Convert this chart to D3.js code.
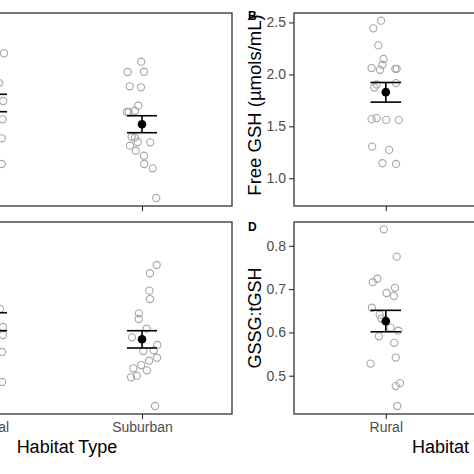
<!DOCTYPE html>
<html>
<head>
<meta charset="utf-8">
<script src="https://cdn.jsdelivr.net/npm/d3@7"></script>
<style>
  html, body { margin: 0; padding: 0; background: #fff; }
  svg { display: block; }
</style>
</head>
<body>
<script>
// ---------------- DATA ----------------
const categories = ["Rural", "Suburban"];

// Panel A (y axis outside the visible crop)
const aRuralVals = [5.165, 4.549, 4.176, 3.797, 3.403, 2.870];
const aRuralJit  = [0.08, 0.047, 0.075, 0.071, 0.065, 0.065];
const aSubVals = [4.991, 4.777, 4.783, 4.481, 4.460, 4.079, 3.948, 3.948, 3.975, 3.436,
                  3.416, 3.326, 3.250, 3.320, 3.146, 3.042, 2.870, 2.781, 2.166];
const aSubJit  = [-0.005, -0.095, 0.013, -0.082, -0.007, -0.025, -0.1, -0.089, -0.047, -0.069,
                  -0.047, -0.029, -0.08, 0.055, -0.042, 0.013, 0.015, 0.071, 0.095];
const aMean  = [4.135, 3.693];
const aUpper = [4.315, 3.871];
const aLower = [3.954, 3.519];

// Panel B: Free GSH (µmols/mL)
const bRuralVals = [2.517, 2.443, 2.279, 2.148, 2.093, 2.061, 2.044, 2.054, 2.054, 1.903,
                    1.874, 1.916, 1.569, 1.579, 1.562, 1.562, 1.305, 1.273, 1.145, 1.138];
const bRuralJit  = [-0.031, -0.082, -0.049, -0.015, -0.022, -0.093, -0.038, 0.062, 0.071, -0.06,
                    -0.075, 0.067, -0.093, -0.06, 0.002, 0.085, -0.089, 0.022, -0.022, 0.067];
const bMean  = [1.829];
const bUpper = [1.922];
const bLower = [1.733];
const bTicks = [1.0, 1.5, 2.0, 2.5];

// Panel C (y axis outside the visible crop)
const cRuralVals = [1.075, 0.925, 0.858, 0.717, 0.467];
const cRuralJit  = [0.053, 0.073, 0.073, 0.067, 0.067];
const cSubVals = [1.442, 1.373, 1.228, 1.158, 1.039, 0.992, 0.911, 0.839, 0.775, 0.725,
                  0.731, 0.669, 0.644, 0.608, 0.581, 0.564, 0.519, 0.506, 0.267];
const cSubJit  = [0.098, 0.053, 0.049, 0.053, -0.02, -0.022, 0.031, -0.067, 0.102, 0.009,
                  0.078, 0.1, 0.047, -0.005, -0.058, 0.033, -0.035, -0.073, 0.087];
const cMean  = [0.969, 0.8225];
const cUpper = [1.044, 0.894];
const cLower = [0.894, 0.750];

// Panel D: GSSG:tGSH
const dRuralVals = [0.838, 0.775, 0.724, 0.716, 0.703, 0.691, 0.684, 0.657, 0.641, 0.632,
                    0.611, 0.604, 0.591, 0.576, 0.542, 0.528, 0.483, 0.476, 0.430];
const dRuralJit  = [-0.013, 0.071, -0.055, -0.085, 0.06, 0.005, 0.053, -0.091, -0.04, -0.029,
                    0.031, 0.082, -0.045, 0.055, 0.065, -0.1, 0.093, 0.065, 0.075];
const dMean  = [0.626];
const dUpper = [0.651];
const dLower = [0.6015];
const dTicks = [0.5, 0.6, 0.7, 0.8];

const xTitle = "Habitat Type";

// ---------------- DRAW ----------------
const W = 474, H = 474;
const FONT = "'Liberation Sans', Arial, Helvetica, sans-serif";
const svg = d3.select("body").append("svg").attr("width", W).attr("height", H)
  .style("font-family", FONT);
svg.append("rect").attr("width", W).attr("height", H).attr("fill", "#fff");

function drawPanel(cfg) {
  const x = d3.scalePoint().domain(categories).range([cfg.x0, cfg.x1]).padding(0.6);
  const y = d3.scaleLinear().domain(cfg.domain).range([cfg.y1, cfg.y0]);
  const step = x.step();
  const g = svg.append("g");

  // x axis
  const xa = g.append("g").attr("transform", `translate(0,${cfg.y1})`)
    .call(d3.axisBottom(x).tickSize(5).tickPadding(3)
      .tickFormat(cfg.showXLabels ? (d => d) : () => ""));
  xa.select(".domain").remove();
  xa.selectAll("line").attr("stroke", "#333").attr("stroke-width", 1.1);
  xa.selectAll("text").attr("fill", "#4D4D4D").style("font-size", "14px").style("font-family", FONT);

  // y axis
  if (cfg.yTicks) {
    const ya = g.append("g").attr("transform", `translate(${cfg.x0},0)`)
      .call(d3.axisLeft(y).tickValues(cfg.yTicks).tickFormat(d3.format(".1f")).tickSize(5).tickPadding(3));
    ya.select(".domain").remove();
    ya.selectAll("line").attr("stroke", "#333").attr("stroke-width", 1.1);
    ya.selectAll("text").attr("fill", "#4D4D4D").style("font-size", "14px").style("font-family", FONT);
  }

  // points
  cfg.series.forEach(s => {
    const pts = s.vals.map((v, i) => ({ v, j: s.jit[i] }));
    g.append("g").selectAll("circle").data(pts).join("circle")
      .attr("cx", d => x(s.cat) + d.j * step)
      .attr("cy", d => y(d.v))
      .attr("r", 3.6)
      .attr("fill", "none")
      .attr("stroke", "#A6A6A6")
      .attr("stroke-width", 1.1);
  });

  // error bars + means
  const stats = cfg.statCats.map((c, i) => ({ c, m: cfg.mean[i], u: cfg.upper[i], l: cfg.lower[i] }));
  const eb = g.append("g").attr("stroke", "#000").attr("stroke-width", 1.6);
  stats.forEach(s => {
    const cx = x(s.c), hw = 0.1 * step;
    eb.append("line").attr("x1", cx).attr("x2", cx).attr("y1", y(s.u)).attr("y2", y(s.l));
    eb.append("line").attr("x1", cx - hw).attr("x2", cx + hw).attr("y1", y(s.u)).attr("y2", y(s.u));
    eb.append("line").attr("x1", cx - hw).attr("x2", cx + hw).attr("y1", y(s.l)).attr("y2", y(s.l));
  });
  g.append("g").selectAll("circle").data(stats).join("circle")
    .attr("cx", d => x(d.c)).attr("cy", d => y(d.m)).attr("r", 4.3).attr("fill", "#000");

  // border
  g.append("rect").attr("x", cfg.x0).attr("y", cfg.y0)
    .attr("width", cfg.x1 - cfg.x0).attr("height", cfg.y1 - cfg.y0)
    .attr("fill", "none").attr("stroke", "#222").attr("stroke-width", 1.2);

  // y title
  if (cfg.yTitle) {
    g.append("text")
      .attr("transform", `translate(${cfg.x0 - 33},${cfg.yTitleY}) rotate(-90)`)
      .attr("text-anchor", "middle").attr("fill", "#000")
      .style("font-size", cfg.yTitleSize + "px").text(cfg.yTitle);
  }
  // tag
  if (cfg.tag) {
    g.append("text").attr("x", cfg.x0 - 46).attr("y", cfg.tagY)
      .attr("fill", "#000").style("font-size", "12px").style("font-weight", "bold").text(cfg.tag);
  }
  // x title
  if (cfg.showXLabels) {
    g.append("text").attr("x", (cfg.x0 + cfg.x1) / 2).attr("y", cfg.y1 + 39)
      .attr("text-anchor", "middle").attr("fill", "#000")
      .style("font-size", "18px").text(xTitle);
  }
}

const leftX0 = -98, leftX1 = 232, rightX0 = 294, rightX1 = 630.6;
const topY0 = 13, topY1 = 206, botY0 = 222, botY1 = 414;

drawPanel({ x0: leftX0, x1: leftX1, y0: topY0, y1: topY1, domain: [2, 6],
  series: [{ cat: "Rural", vals: aRuralVals, jit: aRuralJit }, { cat: "Suburban", vals: aSubVals, jit: aSubJit }],
  statCats: categories, mean: aMean, upper: aUpper, lower: aLower, showXLabels: false });

drawPanel({ x0: rightX0, x1: rightX1, y0: topY0, y1: topY1, domain: [0.733, 2.591],
  series: [{ cat: "Rural", vals: bRuralVals, jit: bRuralJit }],
  statCats: ["Rural"], mean: bMean, upper: bUpper, lower: bLower, showXLabels: false,
  yTicks: bTicks, yTitle: "Free GSH (µmols/mL)", yTitleY: 105, yTitleSize: 18.5, tag: "B", tagY: 20 });

drawPanel({ x0: leftX0, x1: leftX1, y0: botY0, y1: botY1, domain: [0.2, 1.8],
  series: [{ cat: "Rural", vals: cRuralVals, jit: cRuralJit }, { cat: "Suburban", vals: cSubVals, jit: cSubJit }],
  statCats: categories, mean: cMean, upper: cUpper, lower: cLower, showXLabels: true });

drawPanel({ x0: rightX0, x1: rightX1, y0: botY0, y1: botY1, domain: [0.4116, 0.855],
  series: [{ cat: "Rural", vals: dRuralVals, jit: dRuralJit }],
  statCats: ["Rural"], mean: dMean, upper: dUpper, lower: dLower, showXLabels: true,
  yTicks: dTicks, yTitle: "GSSG:tGSH", yTitleY: 318, yTitleSize: 18, tag: "D", tagY: 231 });
</script>
</body>
</html>
